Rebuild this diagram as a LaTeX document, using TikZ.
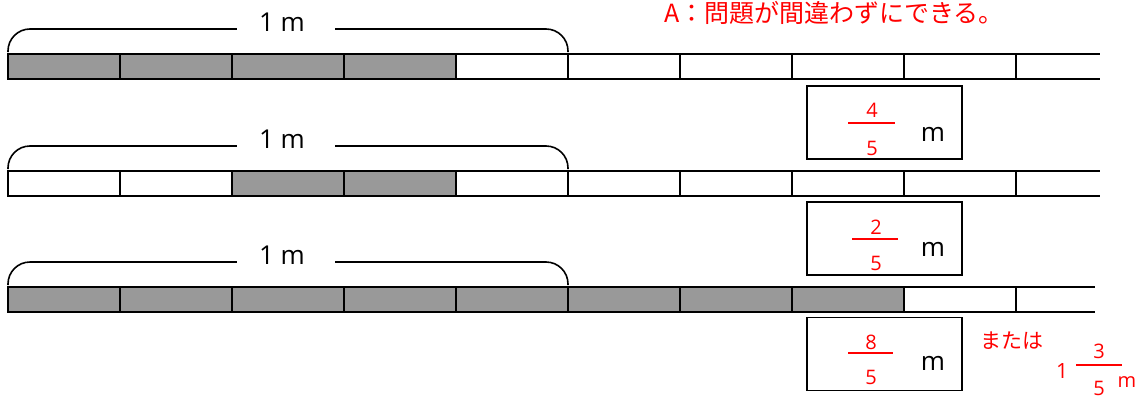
\documentclass[tikz,border=0pt]{standalone}
\usepackage{fontspec}
\setmainfont{Open Sans}
\newfontfamily\jpfont{Noto Sans CJK JP}
\usetikzlibrary{positioning,calc}
\definecolor{barGray}{RGB}{153,153,153}
\definecolor{ansRed}{RGB}{255,0,0}
\tikzset{
  cell/.style={draw, line width=1.6pt, minimum width=112pt, minimum height=25pt, inner sep=0, outer sep=0},
  tail/.style={line width=1.6pt},
  brace/.style={line width=1.6pt, rounded corners=22pt},
  meter/.style={font=\fontsize{26}{26}\selectfont, inner sep=0},
  ansbox/.style={draw, line width=1.6pt, minimum width=155pt, minimum height=73pt, inner sep=0},
  fracnum/.style={text=ansRed, font=\fontsize{20}{20}\selectfont, inner sep=0, anchor=base},
  fracbar/.style={draw=ansRed, line width=1.5pt},
  unit/.style={font=\fontsize{26}{26}\selectfont, inner sep=0, anchor=base},
}

\begin{document}
\begin{tikzpicture}[x=1pt, y=-1pt]
\useasboundingbox (0,0) rectangle (1143,399);

% title
\node[text=ansRed, font=\jpfont\fontsize{25}{25}\selectfont, inner sep=0] (title) at (834,13) {A：問題が間違わずにできる。};

% strips: row / centre y / first and last grey cell / end of tail
\foreach \r/\y/\lo/\hi/\e in {1/66.5/0/3/1100, 2/183.5/2/3/1100, 3/299.5/0/7/1095}{
  \foreach \i in {0,...,8}{
    \def\cellfill{white}
    \ifnum\i<\lo\else\ifnum\i>\hi\else\def\cellfill{barGray}\fi\fi
    \node[cell, fill=\cellfill] (r\r c\i) at (64+112*\i,\y) {};
  }
  \coordinate (r\r end) at (\e,\y);
  \draw[tail] (r\r c8.north east) -- (r\r c8.north east -| r\r end);
  \draw[tail] (r\r c8.south east) -- (r\r c8.south east -| r\r end);
  % 1 m brace
  \draw[brace] ([yshift=2pt]r\r c0.north west) |- ([yshift=25pt]r\r c4.north east)
    -- ([yshift=2pt]r\r c4.north east);
  \node[meter, fill=white, minimum width=98pt, minimum height=22pt] (len\r) at (286,\y-44.5) {};
  \node[meter] (lbl\r) at (282,\y-44.5) {1 m};
}

% answer boxes
\node[ansbox] (box1) at (884.5,122.5) {};
\node[ansbox] (box2) at (884.5,238.5) {};
\node[ansbox] (box3) at (884.5,354) {};

% 4/5 m
\node[fracnum] (n1) at (872,117) {4};
\draw[fracbar] (848,123) -- (895,123);
\node[fracnum] (d1) at (872,155) {5};
\node[unit] (u1) at (933,141) {m};

% 2/5 m
\node[fracnum] (n2) at (876,234) {2};
\draw[fracbar] (852,239) -- (898,239);
\node[fracnum] (d2) at (876,270) {5};
\node[unit] (u2) at (933,256) {m};

% 8/5 m
\node[fracnum] (n3) at (871,349) {8};
\draw[fracbar] (848,353) -- (893,353);
\node[fracnum] (d3) at (871,384) {5};
\node[unit] (u3) at (933,370) {m};

% or 1 3/5 m
\node[text=ansRed, font=\jpfont\fontsize{21}{21}\selectfont, inner sep=0] (alt) at (1012,341) {または};
\node[fracnum, font=\fontsize{21}{21}\selectfont] (w4) at (1062,378) {1};
\node[fracnum] (n4) at (1099,358) {3};
\draw[fracbar] (1076,365) -- (1122,365);
\node[fracnum] (d4) at (1099,395) {5};
\node[fracnum] (u4) at (1127,387) {m};
\end{tikzpicture}
\end{document}
